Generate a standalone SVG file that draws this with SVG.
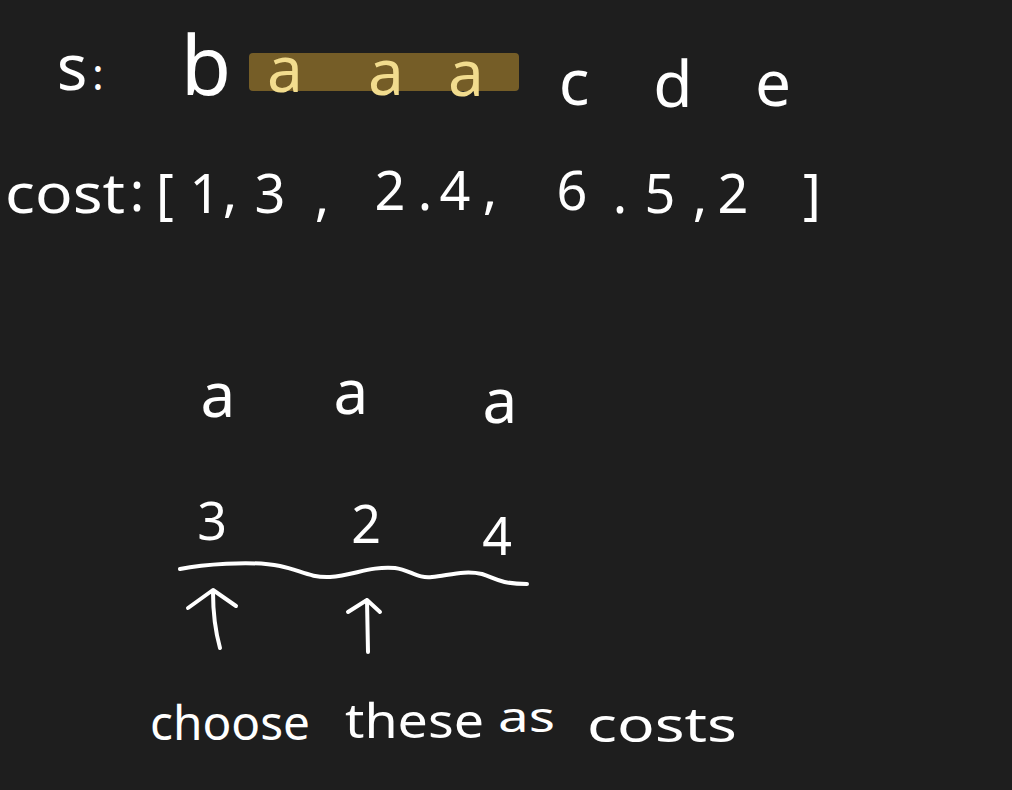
<svg xmlns="http://www.w3.org/2000/svg" width="1012" height="790" viewBox="0 0 1012 790">
<style>
.t{font-family:"Noto Sans","Liberation Sans",sans-serif;fill:#ffffff;text-anchor:middle}
.hl{fill:#f2dc8e}
.ln{fill:none;stroke:#ffffff;stroke-width:4;stroke-linecap:round;stroke-linejoin:round}
</style>
<rect width="1012" height="790" fill="#1e1e1e"/>
<g id="string-row">
<rect x="249" y="53" width="270" height="38" rx="4" fill="#7a6128" opacity="0.95"/>
<text class="t" x="72" y="90" font-size="64">s</text>
<text class="t" x="98" y="90" font-size="44">:</text>
<text class="t" x="206" y="95" font-size="82">b</text>
<text class="t hl" x="285" y="92" font-size="64">a</text>
<text class="t hl" x="386" y="95" font-size="64">a</text>
<text class="t hl" x="466" y="96" font-size="64">a</text>
<text class="t" x="574" y="105" font-size="64">c</text>
<text class="t" x="673" y="107" font-size="64">d</text>
<text class="t" x="773" y="106" font-size="64">e</text>
</g>
<g id="cost-row" font-size="54">
<text class="t" x="5" y="213" style="text-anchor:start" textLength="120" lengthAdjust="spacingAndGlyphs">cost</text>
<text class="t" x="137" y="211">:</text>
<text class="t" x="165" y="213">[</text>
<text class="t" x="205" y="213">1</text>
<text class="t" x="230" y="211">,</text>
<text class="t" x="270" y="213">3</text>
<text class="t" x="322" y="215">,</text>
<text class="t" x="390" y="210">2</text>
<text class="t" x="425" y="210">.</text>
<text class="t" x="455" y="210">4</text>
<text class="t" x="490" y="208">,</text>
<text class="t" x="572" y="210">6</text>
<text class="t" x="620" y="213">.</text>
<text class="t" x="660" y="213">5</text>
<text class="t" x="700" y="215">,</text>
<text class="t" x="733" y="213">2</text>
<text class="t" x="812" y="213">]</text>
</g>
<g id="letters" font-size="62">
<text class="t" x="218" y="417">a</text>
<text class="t" x="351" y="414">a</text>
<text class="t" x="500" y="423">a</text>
</g>
<g id="costs" font-size="52">
<text class="t" x="212" y="540">3</text>
<text class="t" x="366" y="543">2</text>
<text class="t" x="497" y="555">4</text>
</g>
<g id="connectors">
<path class="ln" d="M180,569 C200,565 250,560 280,566 C300,570 310,578 330,577 C355,575 370,566 395,568 C410,570 418,579 432,577 C450,575 465,570 482,574 C495,578 500,584 527,584"/>
<path class="ln" d="M220,648 C215,630 213,610 213,592 M188,608 L213,590 L236,606"/>
<path class="ln" d="M368,652 L367,600 M348,612 L367,600 L380,612"/>
</g>
<g id="caption" font-size="48">
<text class="t" x="150" y="740" style="text-anchor:start" textLength="160" lengthAdjust="spacingAndGlyphs">choose</text>
<text class="t" x="345" y="738" style="text-anchor:start" textLength="139" lengthAdjust="spacingAndGlyphs">these</text>
<text class="t" x="498" y="732" style="text-anchor:start" textLength="57" lengthAdjust="spacingAndGlyphs" font-size="42">as</text>
<text class="t" x="587" y="742" style="text-anchor:start" textLength="150" lengthAdjust="spacingAndGlyphs">costs</text>
</g>
</svg>
